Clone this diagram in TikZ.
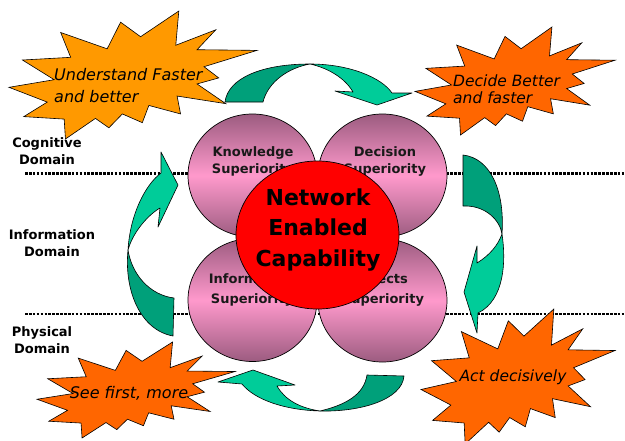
\documentclass[tikz,border=0pt]{standalone}
\usepackage{fontspec}
\setmainfont{DejaVu Sans}
\usetikzlibrary{shapes.geometric}
\definecolor{tealdark}{RGB}{0,160,122}
\definecolor{teallight}{RGB}{0,204,153}
\definecolor{pdark}{RGB}{156,92,128}
\definecolor{plight}{RGB}{255,153,204}
\definecolor{orangeA}{RGB}{255,153,0}
\definecolor{orangeB}{RGB}{255,102,0}
\tikzset{
  domline/.style={line width=2.4pt, dash pattern=on 2.6pt off 1.3pt},
  ball/.style={ellipse, draw=black, line width=0.7pt, top color=pdark, bottom color=pdark, middle color=plight, minimum width=129pt, minimum height=123pt, inner sep=0pt},
  redball/.style={ellipse, draw=black, line width=0.7pt, fill=red, minimum width=163pt, minimum height=148pt, inner sep=0pt},
  balltext/.style={align=center, inner sep=0pt, text=black!90},
  domtext/.style={font=\fontsize{13}{17}\selectfont\bfseries, align=center, inner sep=0pt},
  startext/.style={align=left, inner sep=0pt},
  arrdark/.style={fill=tealdark, draw=black, line width=0.6pt, line join=round},
  arrlight/.style={fill=teallight, draw=black, line width=0.6pt, line join=round},
  burst/.style={draw=black, line width=0.6pt, line join=miter},
}
\newcommand\drawburst[5]{%
  \begin{scope}[shift={(#1,#2)}, xscale=#3, yscale=#4]
    \filldraw[burst, fill=#5] (53.06,20.10) -- (68.47,0) -- (67.25,26.75) -- (83.37,14.69) -- (75.83,30.24) -- (100,30.76) -- (78.63,43.53) -- (84.58,52.27) -- (75.83,56.99) -- (87.39,72.37) -- (67.78,66.44) -- (69.18,80.42) -- (56.39,73.77) -- (53.76,87.23) -- (45.70,80.42) -- (40.28,91.26) -- (34.85,83.91) -- (22.76,100) -- (22.25,84.44) -- (5.95,82.52) -- (15.42,71.16) -- (0,59.62) -- (18.22,53.67) -- (5.43,38.29) -- (24.87,36.19) -- (20.84,16.78) -- (39.58,29.55) -- (45.01,8.74) -- cycle;
  \end{scope}}
\begin{document}
\begin{tikzpicture}[x=1pt, y=-1pt]
\useasboundingbox (0,0) rectangle (625,440);
\clip (0,0) rectangle (625,440);
\fill[white] (0,0) rectangle (625,440);

% domain separators
\coordinate (l1a) at (25,173.5);
\coordinate (l1b) at (625,173.5);
\coordinate (l2a) at (25,314);
\coordinate (l2b) at (625,314);
\draw[domline] (l1a) -- (l1b);
\draw[domline] (l2a) -- (l2b);

% four superiority balls
\node[ball] (know) at (252.5,175.5) {};
\node[ball] (dec) at (382.5,175.5) {};
\node[ball] (inf) at (252.5,300) {};
\node[ball] (eff) at (382.5,300.5) {};
\node[balltext, font=\fontsize{13}{17}\selectfont\bfseries] (knowt) at (253,161.5) {Knowledge\\Superiority};
\node[balltext, font=\fontsize{13}{17}\selectfont\bfseries] (dect) at (385,161.5) {Decision\\Superiority};
\node[balltext, font=\fontsize{13}{20}\selectfont\bfseries] (inft) at (252,289.5) {Information\\Superiority};
\node[balltext, font=\fontsize{13}{20}\selectfont\bfseries] (efft) at (383,289.5) {Effects\\Superiority};

% central capability
\node[redball] (nec) at (317.5,235) {};
\node[align=center, inner sep=0pt, font=\fontsize{22}{30.5}\selectfont\bfseries] (nect) at (318,230) {Network\\Enabled\\Capability};

% starbursts
\drawburst{9}{11}{2.48}{1.28}{orangeA}
\drawburst{415}{27}{2.00}{1.08}{orangeB}
\drawburst{37}{342}{1.98}{0.96}{orangeB}
\drawburst{421}{309}{1.94}{1.35}{orangeB}
\node[startext, anchor=west, font=\fontsize{16}{22}\selectfont\itshape] (s1) at (54,86) {Understand Faster\\and better};
\node[startext, anchor=west, font=\fontsize{15.5}{17}\selectfont\itshape] (s2) at (453,89.5) {Decide Better\\and faster};
\node[startext, font=\fontsize{16}{20}\selectfont\itshape] (s3) at (129,393) {See first, more};
\node[startext, font=\fontsize{15.5}{20}\selectfont\itshape] (s4) at (513,377) {Act decisively};

% curved arrows
% top
\filldraw[arrdark] (225,102) .. controls (228,78) and (262,64) .. (310,64) .. controls (288,68) and (268,82) .. (263,102) -- cycle;
\filldraw[arrlight] (310,64) .. controls (350,64) and (382,78) .. (392,93) -- (412,93) -- (377,105) -- (335,91) -- (353,92) .. controls (345,78) and (328,68) .. (310,64) -- cycle;
% bottom
\filldraw[arrdark] (404,376) .. controls (402,400) and (360,412) .. (320,411) .. controls (345,405) and (364,395) .. (367,375) -- cycle;
\filldraw[arrlight] (320,411) .. controls (285,410) and (255,400) .. (242,384) -- (218,382) -- (253,370) -- (295,385) -- (277,386) .. controls (285,400) and (300,408) .. (320,411) -- cycle;
% left
\filldraw[arrdark] (173,336) .. controls (140,330) and (124,290) .. (128,250) .. controls (132,275) and (150,295) .. (174,298) -- cycle;
\filldraw[arrlight] (128,250) .. controls (130,215) and (145,185) .. (161,173) -- (161,152) -- (178,185) -- (158,227) -- (160,208) .. controls (148,215) and (133,232) .. (128,250) -- cycle;
% right
\filldraw[arrdark] (463,155) .. controls (490,158) and (505,190) .. (502,234) .. controls (500,220) and (485,205) .. (463,206) -- cycle;
\filldraw[arrlight] (502,234) .. controls (506,260) and (505,300) .. (478,313) -- (477,333) -- (464,292) -- (477,246) -- (477,263) .. controls (490,255) and (498,245) .. (502,234) -- cycle;

% domain labels
\node[domtext] (cog) at (47,151.5) {Cognitive\\Domain};
\node[domtext] (infd) at (52,243.5) {Information\\Domain};
\node[domtext] (phy) at (42,340.5) {Physical\\Domain};
\end{tikzpicture}
\end{document}
